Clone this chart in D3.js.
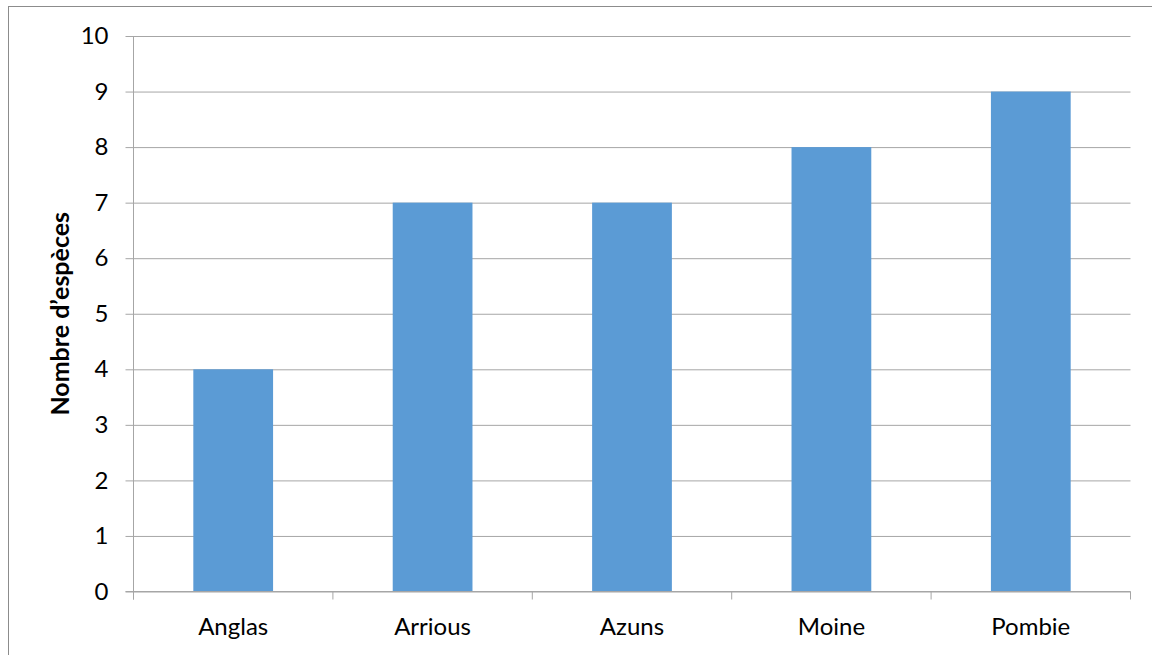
<!DOCTYPE html>
<html>
<head>
<meta charset="utf-8">
<script src="https://cdn.jsdelivr.net/npm/d3@7"></script>
<style>
  html, body { margin: 0; padding: 0; background: #fff; }
  svg { display: block; }
  text { font-family: Lato, "Open Sans", sans-serif; fill: #000; }
</style>
</head>
<body>
<svg id="chart" width="1152" height="655"></svg>
<script>
// Number of species per site
const sites = ["Anglas", "Arrious", "Azuns", "Moine", "Pombie"];
const speciesCounts = [4, 7, 7, 8, 9];
const yTicks = [0, 1, 2, 3, 4, 5, 6, 7, 8, 9, 10];
const yTitle = "Nombre d\u2019espèces";

const svg = d3.select("#chart");
const W = 1152, H = 655;
const plot = { left: 133.5, right: 1130.5, top: 36, bottom: 591.5 };

// Outer chart frame (extends past the right and bottom edges)
svg.append("rect")
  .attr("x", 8.5).attr("y", 6.5)
  .attr("width", W).attr("height", H)
  .attr("fill", "none").attr("stroke", "#8c8c8c").attr("stroke-width", 1);

const x = d3.scaleBand().domain(sites).range([plot.left, plot.right]).paddingInner(0).paddingOuter(0);
const y = d3.scaleLinear().domain([0, 10]).range([plot.bottom, plot.top]);

const gridColor = "#a6a6a6";

// Horizontal gridlines with the left tick marks
const yAxis = d3.axisLeft(y).tickValues(yTicks).tickSize(8).tickPadding(17).tickFormat(d3.format("d"));
const gy = svg.append("g").attr("transform", `translate(${plot.left},0)`).call(yAxis);
gy.select(".domain").remove();
gy.selectAll(".tick line").attr("stroke", gridColor);
gy.selectAll(".tick").append("line")
  .attr("x1", 0).attr("x2", plot.right - plot.left)
  .attr("stroke", gridColor);
gy.selectAll(".tick text").style("font-size", "24px").attr("font-family", null);

// Bars
const barWidth = x.bandwidth() * 0.4;
svg.append("g").selectAll("rect")
  .data(sites)
  .join("rect")
  .attr("x", (d) => x(d) + (x.bandwidth() - barWidth) / 2)
  .attr("y", (d, i) => y(speciesCounts[i]))
  .attr("width", barWidth)
  .attr("height", (d, i) => y(0) - y(speciesCounts[i]))
  .attr("fill", "#5b9bd5");

// Vertical axis line
svg.append("line")
  .attr("x1", plot.left).attr("x2", plot.left)
  .attr("y1", plot.top).attr("y2", plot.bottom + 8)
  .attr("stroke", gridColor);

// Category axis: baseline, boundary ticks and labels
const gx = svg.append("g");
gx.append("line")
  .attr("x1", plot.left - 8).attr("x2", plot.right)
  .attr("y1", plot.bottom).attr("y2", plot.bottom)
  .attr("stroke", gridColor);
const bounds = sites.map((d) => x(d)).concat([x.range()[1]]);
gx.selectAll("line.tk").data(bounds).join("line")
  .attr("class", "tk")
  .attr("x1", (d) => d).attr("x2", (d) => d)
  .attr("y1", plot.bottom).attr("y2", plot.bottom + 8)
  .attr("stroke", gridColor);
gx.selectAll("text").data(sites).join("text")
  .attr("x", (d) => x(d) + x.bandwidth() / 2)
  .attr("y", 635)
  .attr("text-anchor", "middle")
  .style("font-size", "24px")
  .text((d) => d);

// Y axis title
svg.append("text")
  .attr("transform", `translate(69,${(plot.top + plot.bottom) / 2}) rotate(-90)`)
  .attr("text-anchor", "middle")
  .style("font-size", "25px")
  .style("font-weight", "bold")
  .text(yTitle);
</script>
</body>
</html>
